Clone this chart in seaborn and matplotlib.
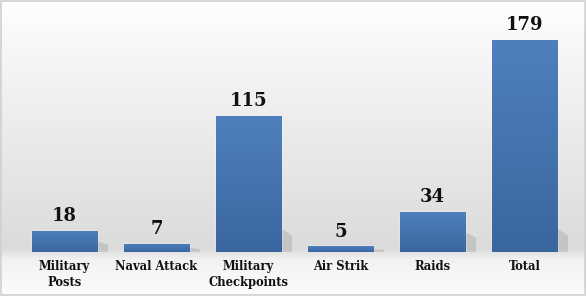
import numpy as np
import pandas as pd
import matplotlib
matplotlib.use("Agg")
import matplotlib.pyplot as plt
import seaborn as sns
from matplotlib.colors import LinearSegmentedColormap
from matplotlib.patches import Rectangle

categories = ["Military\nPosts", "Naval Attack", "Military\nCheckpoints", "Air Strik", "Raids", "Total"]
values = [18, 7, 115, 5, 34, 179]

df = pd.DataFrame({"category": categories, "value": values})

sns.set_theme(style="white")
plt.rcParams['font.family'] = ['DejaVu Serif']

W, H = 586, 296
fig = plt.figure(figsize=(W / 100, H / 100), dpi=100)

# background gradient
bg = fig.add_axes([0, 0, 1, 1], zorder=0)
grad = np.linspace(0, 1, 300)
vals = np.interp(grad, [0.0, 0.12, 0.16, 0.85, 1.0], [0.99, 0.95, 0.86, 0.97, 1.0])
img = np.dstack([vals, vals, vals]).reshape(300, 1, 3)
bg.imshow(img, aspect="auto", extent=[0, 1, 0, 1], origin="lower")
bg.set_xlim(0, 1); bg.set_ylim(0, 1)
bg.axis("off")
bg.add_patch(Rectangle((0.001, 0.002), 0.997, 0.995, fill=False, edgecolor="#d0d0d0", lw=1.2, transform=bg.transAxes))

left = 18.5 / W
width = 552 / W
bottom = (H - 252) / H
ylim_top = 200
px_per_unit = 212 / 179
height = ylim_top * px_per_unit / H
ax = fig.add_axes([left, bottom, width, height], zorder=1)
ax.patch.set_alpha(0)

sns.barplot(data=df, x="category", y="value", color="#4a78b5", width=0.707, ax=ax, saturation=1)

cmap = LinearSegmentedColormap.from_list("b", ["#3a66a0", "#4f80bd"])
for p in ax.patches:
    x0, y0 = p.get_x(), p.get_y()
    w, h = p.get_width(), p.get_height()
    # shadow
    sh = plt.Polygon([[x0 + w, 0], [x0 + w, min(h, 40) * 0.5], [x0 + w + 0.12, min(h, 40) * 0.35], [x0 + w + 0.12, 0]],
                     closed=True, facecolor="#9a9a9a", alpha=0.35, edgecolor="none", zorder=1)
    ax.add_patch(sh)
    im = ax.imshow(np.linspace(0, 1, 100).reshape(100, 1), cmap=cmap, aspect="auto",
                   extent=[x0, x0 + w, y0, y0 + h], origin="lower", zorder=3)
    im.set_clip_path(p)
    p.set_zorder(2)

ax.set_xlim(-0.5, 5.5)
ax.set_ylim(0, ylim_top)

for i, v in enumerate(values):
    ax.annotate(str(v), (i, v), xytext=(0, 4), textcoords="offset points",
                ha="center", va="bottom", fontsize=13, fontweight="bold", color="#111111")

ax.set_xlabel("")
ax.set_ylabel("")
ax.set_yticks([])
ax.tick_params(axis="x", length=0, pad=6)
for lab in ax.get_xticklabels():
    lab.set_fontsize(8.3)
    lab.set_fontweight("bold")
    lab.set_color("#111111")
    lab.set_linespacing(1.25)
for s in ax.spines.values():
    s.set_visible(False)

fig.savefig("out.png", dpi=100)
